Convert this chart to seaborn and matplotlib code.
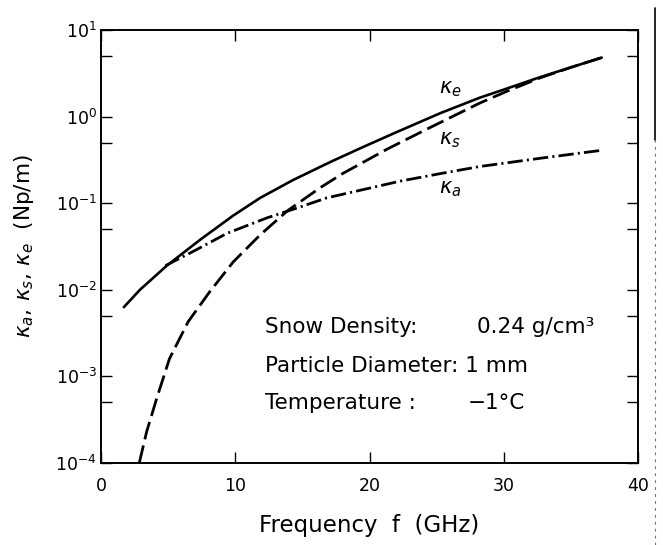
import matplotlib
matplotlib.use("Agg")
import matplotlib.pyplot as plt
from matplotlib.lines import Line2D
from matplotlib.ticker import FixedLocator, NullFormatter, LogFormatterMathtext
import pandas as pd
import seaborn as sns

# Extinction coefficient kappa_e (solid)
freq_e = [1.7, 2.9, 4.9, 7.4, 9.85, 11.85, 14.3, 17.1, 19.3, 22.0, 25.3, 28.2, 30.0, 32.7, 35.0, 37.3]
kappa_e = [0.0063, 0.0100, 0.019, 0.038, 0.072, 0.115, 0.185, 0.30, 0.43, 0.66, 1.10, 1.65, 2.05, 2.85, 3.7, 4.8]

# Scattering coefficient kappa_s (dashed)
freq_s = [2.85, 3.4, 4.17, 5.1, 6.5, 8.1, 9.85, 11.85, 13.9, 16.3, 18.0, 21.3, 24.3, 28.2, 30.2, 32.7, 35.0, 37.3]
kappa_s = [1.0e-4, 2.3e-4, 5.7e-4, 1.6e-3, 4.3e-3, 9.5e-3, 0.021, 0.043, 0.082, 0.15, 0.22, 0.42, 0.72, 1.43, 1.95, 2.8, 3.7, 4.8]

# Absorption coefficient kappa_a (dash-dot)
freq_a = [4.8, 7.1, 9.4, 12.4, 14.8, 16.8, 22.3, 25.3, 28.2, 32.7, 37.4]
kappa_a = [0.019, 0.029, 0.045, 0.068, 0.090, 0.115, 0.18, 0.22, 0.265, 0.33, 0.41]

x_ticks = [0, 10, 20, 30, 40]
y_major = [1e-4, 1e-3, 1e-2, 1e-1, 1e0, 1e1]
y_minor = [5e-4, 5e-3, 5e-2, 5e-1, 5e0]

sns.set_theme(style="ticks")
plt.rcParams["font.family"] = ["DejaVu Sans"]
plt.rcParams["mathtext.fontset"] = "dejavusans"
plt.rcParams["lines.scale_dashes"] = False
for key in ("text.color", "axes.labelcolor", "xtick.color", "ytick.color",
            "axes.edgecolor"):
    plt.rcParams[key] = "black"

fig = plt.figure(figsize=(6.63, 5.45), dpi=100)
ax = fig.add_axes([101 / 663, 1 - 463 / 545, 537 / 663, 433 / 545])

df_e = pd.DataFrame({"f": freq_e, "k": kappa_e})
df_s = pd.DataFrame({"f": freq_s, "k": kappa_s})
df_a = pd.DataFrame({"f": freq_a, "k": kappa_a})

sns.lineplot(data=df_e, x="f", y="k", ax=ax, color="black", lw=1.9,
             linestyle="-", sort=False)
sns.lineplot(data=df_s, x="f", y="k", ax=ax, color="black", lw=2.0,
             linestyle=(0, (13, 4.5)), sort=False)
sns.lineplot(data=df_a, x="f", y="k", ax=ax, color="black", lw=2.0,
             linestyle=(0, (11, 3, 1.5, 3)), sort=False)

ax.set_yscale("log")
ax.set_xlim(0, 40)
ax.set_ylim(1e-4, 1e1)

ax.xaxis.set_major_locator(FixedLocator(x_ticks))
ax.yaxis.set_major_locator(FixedLocator(y_major))
ax.yaxis.set_minor_locator(FixedLocator(y_minor))
ax.yaxis.set_major_formatter(LogFormatterMathtext())
ax.yaxis.set_minor_formatter(NullFormatter())

ax.tick_params(which="both", direction="in", top=True, right=True,
               length=8, width=1.0, color="black")
ax.tick_params(axis="x", labelsize=12.5, pad=10)
ax.tick_params(axis="y", labelsize=12.5, pad=3)

for side in ax.spines.values():
    side.set_linewidth(1.4)
    side.set_color("black")

ax.set_xlabel("Frequency  f  (GHz)", fontsize=16.5, labelpad=14)
ax.set_ylabel(r"$\kappa_a,\,\kappa_s,\,\kappa_e$  (Np/m)", fontsize=15.5,
              labelpad=14)

# Curve labels
ax.text(26.0, 2.1, r"$\kappa_e$", fontsize=15, ha="center", va="center")
ax.text(26.0, 0.54, r"$\kappa_s$", fontsize=15, ha="center", va="center")
ax.text(26.0, 0.146, r"$\kappa_a$", fontsize=15, ha="center", va="center")

# Parameter block
ax.text(0.305, 0.314, "Snow Density:", transform=ax.transAxes,
        fontsize=15.5, ha="left", va="center")
ax.text(0.700, 0.314, "0.24 g/cm³", transform=ax.transAxes,
        fontsize=15.5, ha="left", va="center")
ax.text(0.305, 0.224, "Particle Diameter: 1 mm", transform=ax.transAxes,
        fontsize=15.5, ha="left", va="center")
ax.text(0.305, 0.139, "Temperature :", transform=ax.transAxes,
        fontsize=15.5, ha="left", va="center")
ax.text(0.682, 0.139, "\u22121°C", transform=ax.transAxes,
        fontsize=15.5, ha="left", va="center")

# Page edge on the right margin
fig.add_artist(Line2D([655 / 663, 655 / 663], [1 - 8 / 545, 1 - 140 / 545],
                      transform=fig.transFigure, color="black", lw=1.2))
fig.add_artist(Line2D([655 / 663, 655 / 663], [0, 1 - 140 / 545],
                      transform=fig.transFigure, color="0.45", lw=0.8,
                      linestyle=(0, (2, 3))))

fig.savefig("out.png", dpi=100)
